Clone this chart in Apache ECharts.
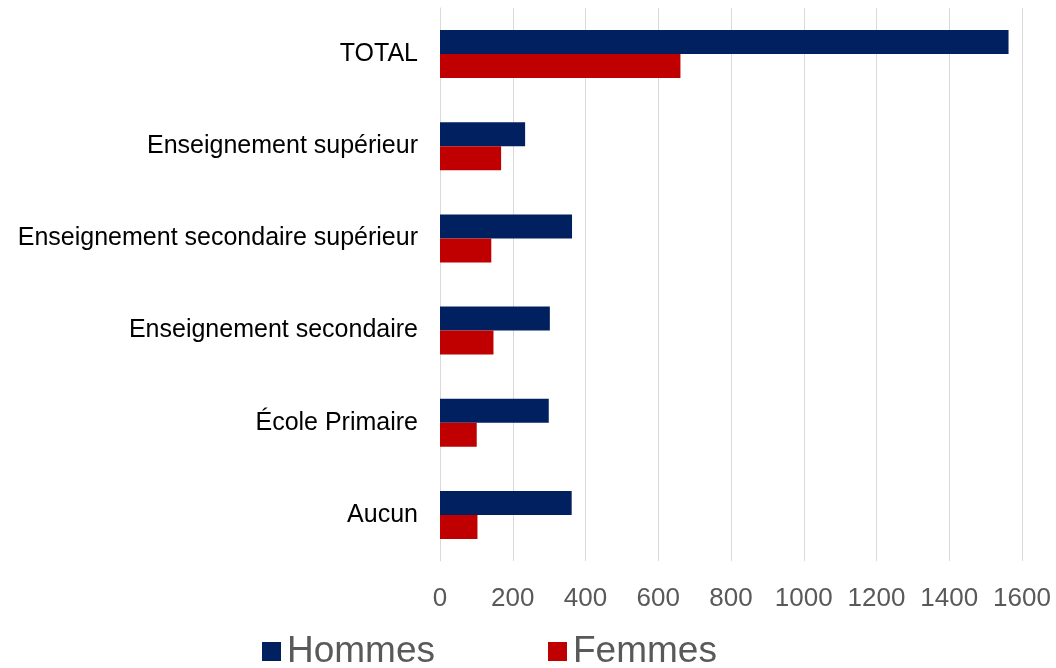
<!DOCTYPE html>
<html lang="fr">
<head>
    <meta charset="UTF-8">
    <title>Hommes / Femmes par niveau d'éducation</title>
    <script src="https://cdn.jsdelivr.net/npm/echarts@6/dist/echarts.min.js"></script>
</head>
<body style="padding: 0; margin: 0">
    <div id="main" style="width: 1056px; height: 668px;"></div>
</body>
<script>
    // categories bottom -> top (ECharts draws category y axis from bottom)
    var categories = ['Aucun', 'École Primaire', 'Enseignement secondaire',
        'Enseignement secondaire supérieur', 'Enseignement supérieur', 'TOTAL'];
    var hommes = [362, 299, 302, 363, 234, 1563];
    var femmes = [103, 101, 147, 141, 168, 661];
    var xTicks = [0, 200, 400, 600, 800, 1000, 1200, 1400, 1600];

    var myChart = echarts.init(document.getElementById('main'));
    var option = {
        animation: false,
        textStyle: { fontFamily: 'Liberation Sans, Arial, sans-serif' },
        legend: {
            left: 257,
            top: 628,
            itemWidth: 19,
            itemHeight: 19,
            itemGap: 113,
            icon: 'rect',
            textStyle: { fontSize: 37, color: '#595959', padding: [0, 0, 0, 1] },
            data: ['Hommes', 'Femmes']
        },
        grid: {
            left: 440,
            right: 34,
            top: 8,
            bottom: 107,
            containLabel: false
        },
        xAxis: {
            type: 'value',
            min: xTicks[0],
            max: xTicks[xTicks.length - 1],
            interval: 200,
            axisLine: { show: false },
            axisTick: { show: false },
            axisLabel: {
                fontSize: 26,
                color: '#595959',
                margin: 25,
                formatter: function (v) { return String(v); }
            },
            splitLine: { lineStyle: { color: '#d9d9d9', width: 1 } }
        },
        yAxis: {
            type: 'category',
            data: categories,
            axisLine: { show: true, lineStyle: { color: '#d9d9d9', width: 1 } },
            axisTick: { show: false },
            axisLabel: { fontSize: 25, color: '#000000', margin: 22 }
        },
        series: [
            {
                name: 'Hommes',
                type: 'bar',
                data: hommes,
                barGap: '0%',
                barCategoryGap: '48%',
                itemStyle: { color: '#002060' }
            },
            {
                name: 'Femmes',
                type: 'bar',
                data: femmes,
                itemStyle: { color: '#C00000' }
            }
        ]
    };
    myChart.setOption(option);
</script>
</html>
